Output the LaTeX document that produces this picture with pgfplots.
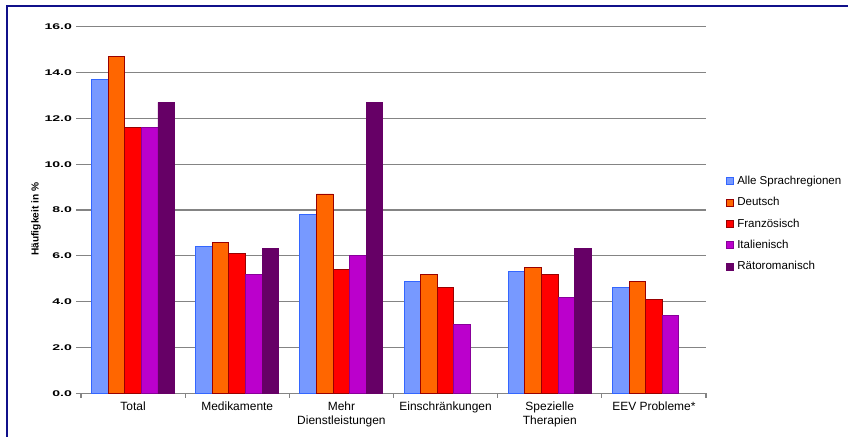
\documentclass[border=0pt]{standalone}
\usepackage{fontspec}
\setmainfont{Liberation Sans}
\usepackage{pgfplots}
\pgfplotsset{compat=1.18}

\definecolor{frameblue}{HTML}{10108A}
\definecolor{gridgray}{HTML}{848484}
\definecolor{cAlle}{HTML}{7799FF}
\definecolor{cAlleB}{HTML}{3366FF}
\definecolor{cDeutsch}{HTML}{FF6600}
\definecolor{cFranz}{HTML}{FF0000}
\definecolor{cDarkRed}{HTML}{990000}
\definecolor{cItal}{HTML}{BB00CC}
\definecolor{cItalB}{HTML}{880099}
\definecolor{cRaeto}{HTML}{660066}

\begin{document}
\begin{tikzpicture}
\path[use as bounding box] (0bp,0bp) rectangle (848bp,437bp);
\draw[frameblue, line width=2bp] (7.3bp,0bp) -- (7.3bp,430.5bp) -- (848bp,430.5bp);
\begin{axis}[
  at={(133.08bp,43.7bp)}, anchor=origin,
  scale only axis, width=625bp, height=366.6bp,
  xmin=-0.5, xmax=5.5, ymin=0, ymax=16,
  axis lines=left, axis line style={draw=none},
  ybar=0pt, bar width=16.6bp,
  ytick={0,2,...,16},
  ymajorgrids, grid style={gridgray, line width=1.2bp},
  tick align=outside, major tick length=4.5bp,
  ytick style={gridgray, line width=1.2bp},
  xtick={-0.5,0.5,...,5.5}, xticklabels={},
  xtick style={gridgray, line width=1.3bp},
  extra x ticks={0,1,2,3,4,5},
  extra x tick labels={Total, Medikamente, Mehr\\Dienstleistungen, Einschränkungen, Spezielle\\Therapien, EEV Probleme*},
  extra x tick style={major tick length=0pt, grid=none},
  xticklabel style={font=\fontsize{12}{14.3}\selectfont, align=center, text=black, yshift=-5bp},
  /pgf/number format/assume math mode=true,
  yticklabel style={font=\bfseries\fontsize{8.3}{10}\selectfont, xscale=1.7, xshift=0.8bp,
    /pgf/number format/fixed, /pgf/number format/fixed zerofill,
    /pgf/number format/precision=1},
  ylabel={Häufigkeit in \%},
  ylabel style={font=\bfseries\fontsize{10.2}{12}\selectfont,
    at={(axis description cs:-0.072,0.475)}, anchor=center},
  legend cell align=left,
  legend style={draw=none, fill=none, at={(axis description cs:1.031,0.597)},
    anchor=north west, font=\fontsize{11.6}{13}\selectfont,
    row sep=8.5bp, inner sep=0pt, nodes={inner sep=1.5bp},
    /tikz/every odd column/.append style={column sep=2.5bp}},
  legend image code/.code={\draw[#1, line width=0.7bp] (0bp,-3.5bp) rectangle (7bp,3.5bp);},
]
\addplot[fill=cAlle, draw=cAlleB, line width=0.9bp] coordinates
  {(0,13.7) (1,6.4) (2,7.8) (3,4.9) (4,5.3) (5,4.6)};
\addplot[fill=cDeutsch, draw=cDarkRed, line width=0.9bp] coordinates
  {(0,14.7) (1,6.6) (2,8.7) (3,5.2) (4,5.5) (5,4.9)};
\addplot[fill=cFranz, draw=cDarkRed, line width=0.9bp] coordinates
  {(0,11.6) (1,6.1) (2,5.4) (3,4.6) (4,5.2) (5,4.1)};
\addplot[fill=cItal, draw=cItalB, line width=0.9bp] coordinates
  {(0,11.6) (1,5.2) (2,6.0) (3,3.0) (4,4.2) (5,3.4)};
\addplot[fill=cRaeto, draw=cRaeto, line width=0.9bp] coordinates
  {(0,12.7) (1,6.3) (2,12.7) (4,6.3)};
\legend{Alle Sprachregionen, Deutsch, Französisch, Italienisch, Rätoromanisch}
\end{axis}
\end{tikzpicture}
\end{document}
